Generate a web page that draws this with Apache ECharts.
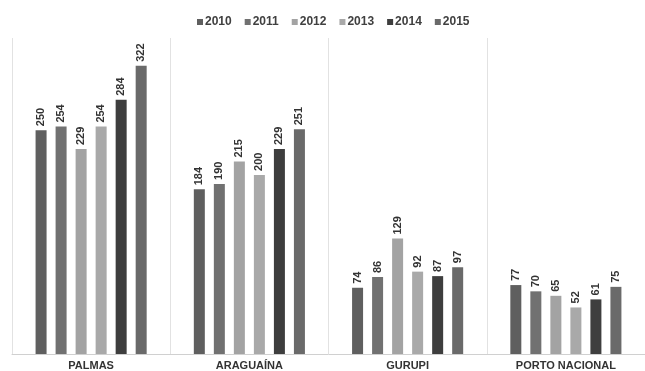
<!DOCTYPE html>
<html><head><meta charset="utf-8">
<script src="https://cdn.jsdelivr.net/npm/echarts@6/dist/echarts.min.js"></script>
<style>html,body{margin:0;padding:0;background:#fff}#c{width:645px;height:371px}</style>
</head><body><div id="c"></div>
<script>
const categories = ['PALMAS', 'ARAGUAÍNA', 'GURUPI', 'PORTO NACIONAL'];
const years = ['2010', '2011', '2012', '2013', '2014', '2015'];
const v2010 = [250, 184, 74, 77];
const v2011 = [254, 190, 86, 70];
const v2012 = [229, 215, 129, 65];
const v2013 = [254, 200, 92, 52];
const v2014 = [284, 229, 87, 61];
const v2015 = [322, 251, 97, 75];
const values = [v2010, v2011, v2012, v2013, v2014, v2015];
const colors = ['#5f5f5f', '#717171', '#a3a3a3', '#a9a9a9', '#3e3e3e', '#6a6a6a'];

const chart = echarts.init(document.getElementById('c'));
chart.setOption({
  animation: false,
  color: colors,
  textStyle: {fontFamily: 'Liberation Sans, Arial, sans-serif'},
  legend: {
    top: 11, left: 192, itemWidth: 6, itemHeight: 6, itemGap: 13,
    icon: 'rect',
    textStyle: {fontSize: 12, fontWeight: 'bold', color: '#404040', padding: [0, 0, 0, -3]}
  },
  grid: {left: 12, right: 0, top: 38, bottom: 17},
  xAxis: {
    type: 'category', data: categories,
    axisLine: {lineStyle: {color: '#d0d0d0'}},
    axisTick: {show: false},
    splitLine: {show: true, interval: 0, lineStyle: {color: '#e2e2e2'}},
    axisLabel: {fontSize: 11, fontWeight: 'bold', color: '#333', margin: 6, interval: 0}
  },
  yAxis: {type: 'value', min: 0, max: 353, show: false, splitLine: {show: false}},
  series: years.map((y, i) => ({
    name: y, type: 'bar', data: values[i], barWidth: 11, barGap: '82%',
    itemStyle: {color: colors[i]},
    label: {show: true, position: 'top', rotate: 90, align: 'left', verticalAlign: 'middle',
      distance: 4, fontSize: 11, color: '#333', fontWeight: 'bold'}
  }))
});
</script></body></html>
